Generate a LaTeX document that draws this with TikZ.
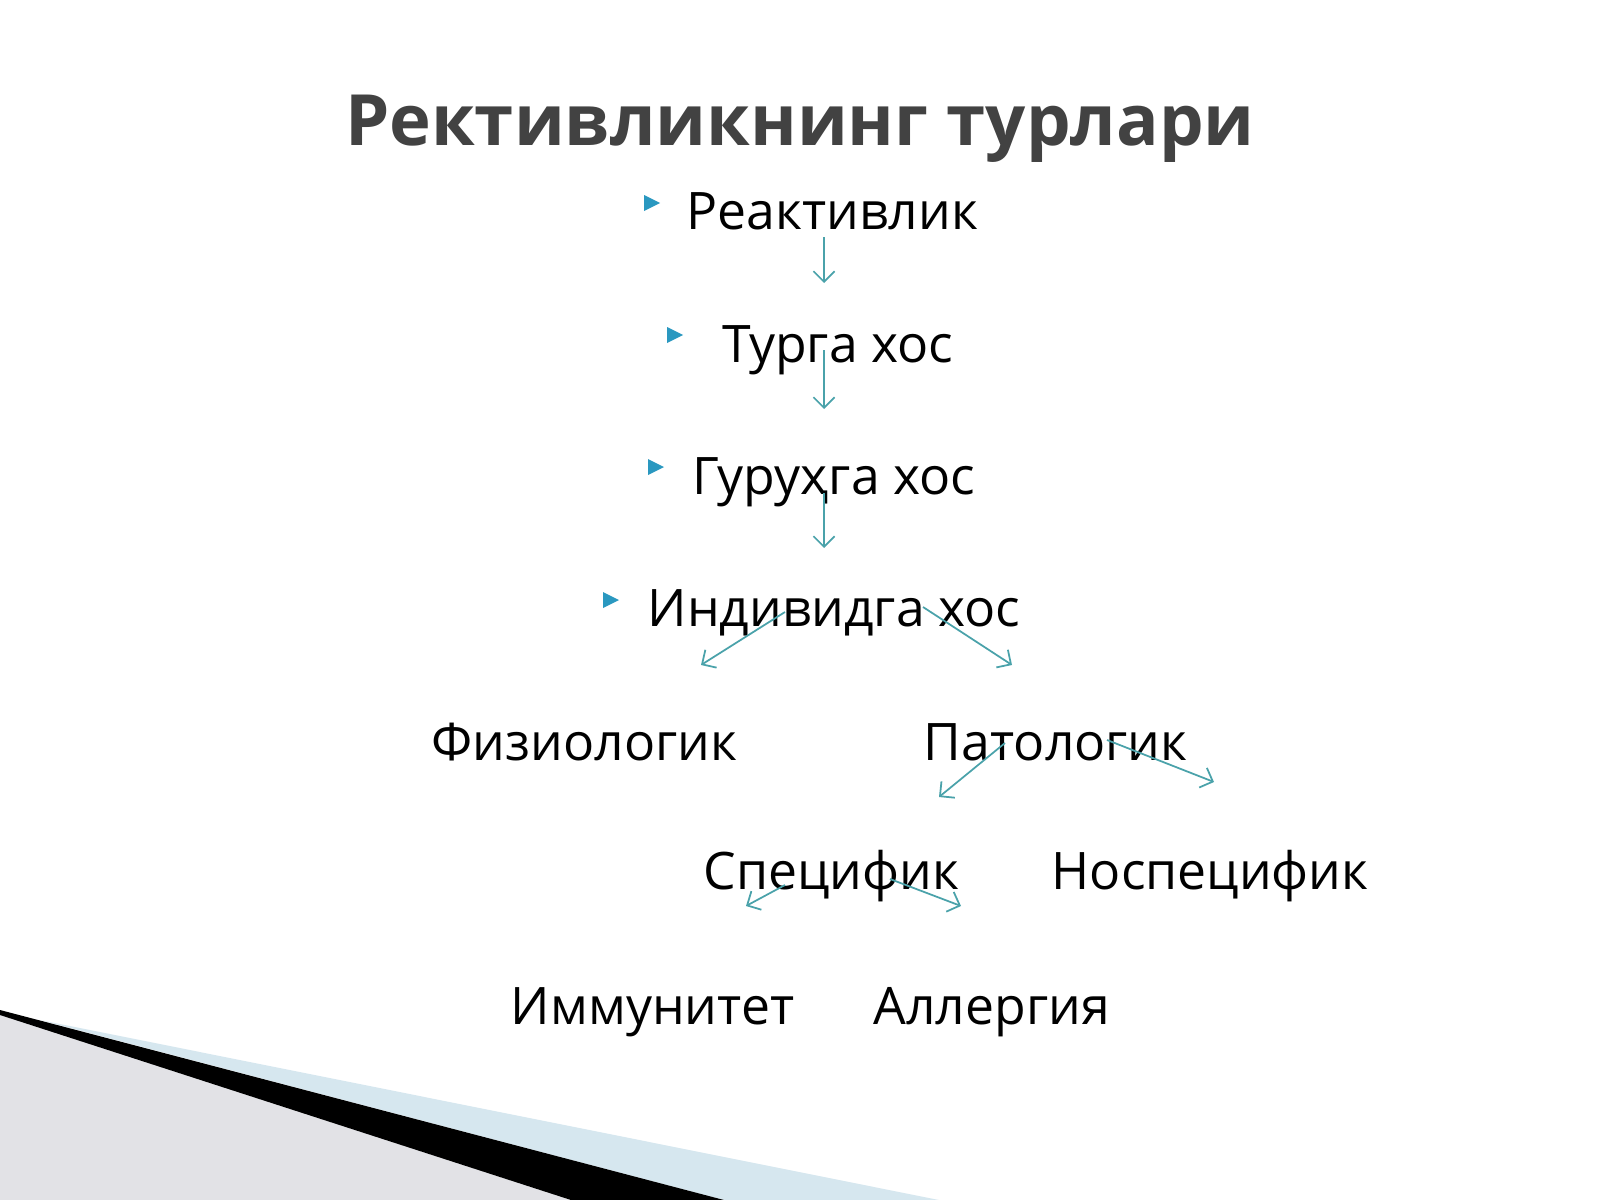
\documentclass[tikz,border=0pt]{standalone}
\usepackage{fontspec}
\setmainfont{Open Sans}
\usetikzlibrary{arrows.meta}
\definecolor{arrowteal}{RGB}{74,162,170}
\definecolor{bulletblue}{RGB}{42,152,192}
\definecolor{titlegray}{RGB}{66,66,66}
\definecolor{wedgegray}{RGB}{226,226,230}
\definecolor{wedgeblue}{RGB}{214,231,239}
\newcommand{\itemfont}{\fontsize{14.7}{17}\selectfont}
\begin{document}
\begin{tikzpicture}[x=0.01cm, y=-0.01cm,
        >={Straight Barb[length=3pt, width=6pt]},
        item/.style={anchor=base west, inner sep=0pt, font=\itemfont},
        link/.style={arrowteal, line width=0.5pt, ->},
        marker/.style={fill=bulletblue}]
        \useasboundingbox (0, 0) rectangle (1600, 1200);

        % bottom corner
        \fill[wedgegray] (0, 1014) -- (571, 1200) -- (0, 1200) -- cycle;
        \fill[wedgeblue] (40, 1020) -- (939, 1200) -- (724, 1200) -- cycle;
        \fill[black] (0, 1010) -- (724, 1200) -- (571, 1200) -- (0, 1015) -- cycle;

        % title
        \node[anchor=base, inner sep=0pt, text=titlegray, font=\fontsize{20.1}{24}\bfseries\selectfont] (title) at (800, 145) {Рективликнинг турлари};

        % chain
        \node[item] (react) at (686, 229) {Реактивлик};
        \node[item] (tur) at (722, 362) {Турга хос};
        \node[item] (group) at (692, 494) {Гуруҳга хос};
        \node[item] (indiv) at (647, 626) {Индивидга хос};
        \fill[marker] (644, 195) -- (660, 203) -- (644, 211) -- cycle;
        \fill[marker] (667, 327) -- (683, 335) -- (667, 343) -- cycle;
        \fill[marker] (648, 459) -- (664, 467) -- (648, 475) -- cycle;
        \fill[marker] (603, 592) -- (619, 600) -- (603, 608) -- cycle;

        \node[item] (phys) at (431, 760) {Физиологик};
        \node[item] (path) at (923, 760) {Патологик};
        \node[item] (spec) at (703, 889) {Специфик};
        \node[item] (nonspec) at (1051, 889) {Носпецифик};
        \node[item] (immun) at (510, 1024) {Иммунитет};
        \node[item] (allerg) at (873, 1024) {Аллергия};

        % arrows
        \coordinate (r0) at (824, 237);  \coordinate (r1) at (824, 283);
        \coordinate (t0) at (824, 350);  \coordinate (t1) at (824, 409);
        \coordinate (g0) at (824, 493);  \coordinate (g1) at (824, 548);
        \coordinate (il0) at (785, 612); \coordinate (il1) at (701, 665);
        \coordinate (ir0) at (923, 607); \coordinate (ir1) at (1012, 665);
        \coordinate (pl0) at (1005, 743); \coordinate (pl1) at (939, 797);
        \coordinate (pr0) at (1107, 740); \coordinate (pr1) at (1214, 782);
        \coordinate (sl0) at (785, 885); \coordinate (sl1) at (746, 906);
        \coordinate (sr0) at (890, 879); \coordinate (sr1) at (961, 906);
        \draw[link] (r0) -- (r1);
        \draw[link] (t0) -- (t1);
        \draw[link] (g0) -- (g1);
        \draw[link] (il0) -- (il1);
        \draw[link] (ir0) -- (ir1);
        \draw[link] (pl0) -- (pl1);
        \draw[link] (pr0) -- (pr1);
        \draw[link] (sl0) -- (sl1);
        \draw[link] (sr0) -- (sr1);
    \end{tikzpicture}
\end{document}
